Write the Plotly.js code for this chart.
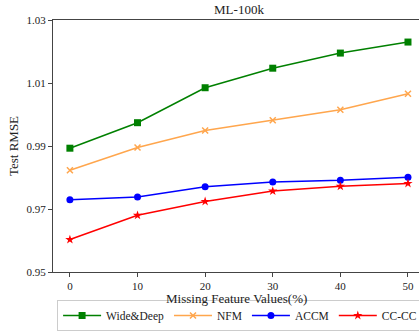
<!DOCTYPE html>
<html>
<head>
<meta charset="utf-8">
<script src="https://cdn.plot.ly/plotly-3.0.1.min.js"></script>
<style>html,body{margin:0;padding:0;background:#fff;}#chart{width:419px;height:331px;}</style>
</head>
<body>
<div id="chart"></div>
<script>
const missing = [0, 10, 20, 30, 40, 50];
const wideDeep = [0.9893, 0.9974, 1.0085, 1.0147, 1.0195, 1.0230];
const nfm      = [0.9823, 0.9895, 0.9949, 0.9982, 1.0015, 1.0066];
const accm     = [0.9729, 0.9738, 0.9771, 0.9786, 0.9791, 0.9801];
const cccc     = [0.9603, 0.9680, 0.9724, 0.9757, 0.9772, 0.9781];
const yTicks = [0.95, 0.97, 0.99, 1.01, 1.03];
const xTicks = [0, 10, 20, 30, 40, 50];

const F = "'Liberation Serif', 'DejaVu Serif', serif";
function tr(name, y, color, symbol, size){
  return {x: missing, y: y, name: name, type: 'scatter', mode: 'lines+markers',
    line: {color: color, width: 1.5},
    marker: {color: color, symbol: symbol, size: size, line: {color: color, width: symbol==='x-thin'?1.5:0}},
    cliponaxis: false};
}
const data = [
  tr('Wide&Deep', wideDeep, '#008000', 'square', 7),
  tr('NFM', nfm, '#ffa64d', 'x-thin', 6),
  tr('ACCM', accm, '#0000ff', 'circle', 7),
  tr('CC-CC', cccc, '#ff0000', 'star', 7)
];
const layout = {
  width: 419, height: 331,
  margin: {l: 53, r: 0, t: 20, b: 59},
  paper_bgcolor: '#fff', plot_bgcolor: '#fff',
  font: {family: F, color: '#222', size: 11},
  title: {text: 'ML-100k', font: {family: F, size: 13, color: '#222'}, x: 0.5704, xanchor: 'center', xref: 'container', y: 0.9728, yanchor: 'middle', yref: 'container'},
  xaxis: {range: [-2.5, 51.63], tickvals: xTicks, ticktext: xTicks.map(String),
    showgrid: false, zeroline: false, showline: true, linecolor: '#444', linewidth: 1, mirror: true,
    ticks: 'outside', ticklen: 4, tickcolor: '#444', tickfont: {family: F, size: 11}},
  yaxis: {range: [0.95, 1.03], tickvals: yTicks, ticktext: yTicks.map(v => v.toFixed(2)),
    showgrid: false, zeroline: false, showline: true, linecolor: '#444', linewidth: 1,
    ticks: 'outside', ticklen: 4, tickcolor: '#444', tickfont: {family: F, size: 11},
    title: {text: 'Test RMSE', font: {family: F, size: 13}, standoff: 4}},
  annotations: [{text: 'Missing Feature Values(%)', xref: 'paper', yref: 'paper', x: 0.5, y: -0.107,
    xanchor: 'center', yanchor: 'middle', showarrow: false, font: {family: F, size: 13, color: '#222'}}],
  showlegend: true,
  legend: {orientation: 'h', x: 0.573, xanchor: 'center', xref: 'container', y: 0, yanchor: 'bottom', yref: 'container',
    itemwidth: 38, bgcolor: '#fff', bordercolor: '#ccc', borderwidth: 1, font: {family: F, size: 11.5}},
};
Plotly.newPlot('chart', data, layout, {staticPlot: true, displayModeBar: false});
</script>
</body>
</html>
